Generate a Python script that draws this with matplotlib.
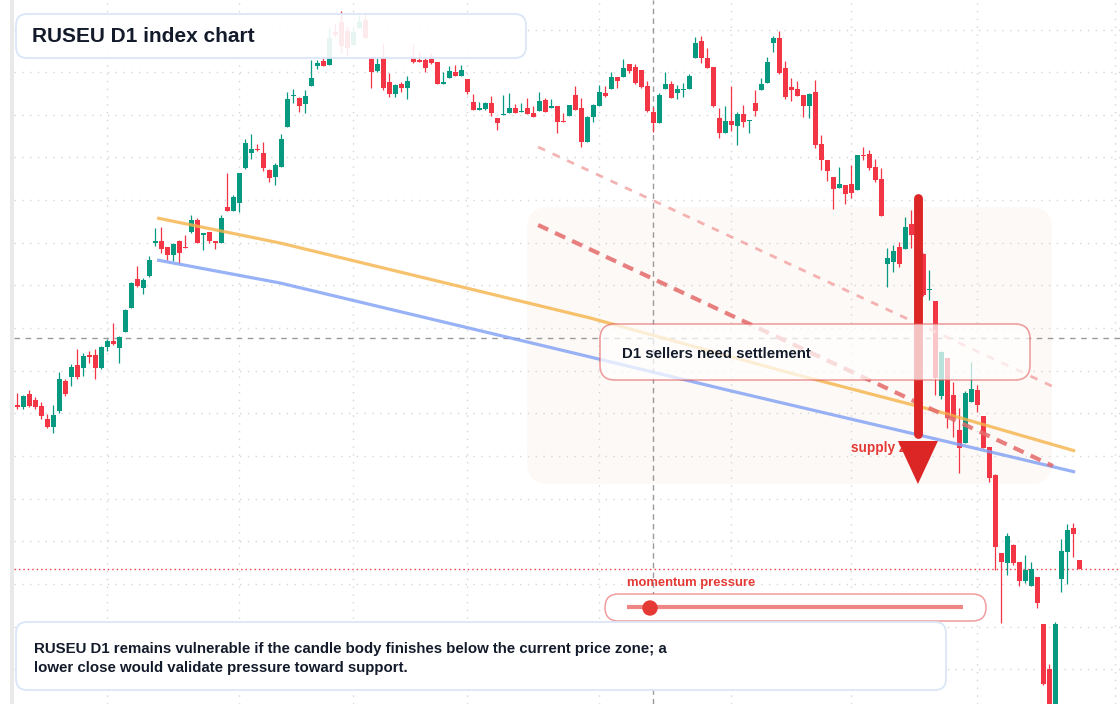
import numpy as np
import matplotlib.pyplot as plt
from matplotlib.colors import to_rgba
from matplotlib.lines import Line2D
from matplotlib.patches import FancyBboxPatch, Polygon, Circle, Rectangle

OUT_FILE = "out.png"

plt.rcParams["font.family"] = ["Liberation Sans", "DejaVu Sans"]
plt.rcParams["lines.scale_dashes"] = False

# === DATA: RUSEU daily candles (index points) ===
opens = [
    595, 593, 606, 600, 594, 581, 573, 589, 619, 623,
    635, 632, 645, 645, 632, 653, 659, 652, 668, 692,
    721, 712, 724, 757, 759, 753, 745, 759, 753, 768,
    780, 765, 768, 759, 757, 793, 789, 797, 832, 847,
    851, 847, 830, 823, 833, 873, 904, 902, 896, 914,
    934, 939, 935, 968, 978, 969, 955, 972, 980, 942,
    929, 942, 918, 906, 916, 912, 942, 940, 940, 941,
    938, 916, 922, 928, 924, 921, 898, 890, 891, 897,
    882, 885, 887, 892, 888, 892, 887, 889, 900, 892,
    894, 879, 884, 905, 892, 858, 883, 894, 907, 911,
    923, 923, 936, 933, 930, 914, 888, 877, 911, 916,
    907, 910, 911, 942, 959, 942, 933, 882, 867, 879,
    874, 886, 879, 897, 910, 917, 957, 962, 932, 913,
    911, 905, 894, 908, 856, 840, 823, 812, 815, 816,
    810, 845, 846, 833, 821, 736, 738, 753, 751, 776,
    768, 746, 710, 699, 604, 642, 605, 570, 557, 598,
    610, 584, 553, 525, 447, 437, 455, 438, 419, 414,
    423, 376, 331, 260, 421, 448, 472, 440,
]
highs = [
    607, 605, 610, 603, 598, 586, 595, 628, 621, 636,
    651, 647, 649, 651, 654, 661, 677, 664, 691, 718,
    734, 722, 744, 772, 773, 753, 757, 760, 765, 785,
    782, 767, 768, 759, 785, 827, 805, 827, 861, 866,
    856, 858, 831, 837, 866, 908, 911, 903, 910, 940,
    940, 942, 972, 977, 989, 974, 973, 985, 987, 942,
    942, 957, 927, 916, 918, 924, 956, 949, 943, 947,
    938, 928, 934, 935, 935, 921, 906, 898, 898, 904,
    882, 905, 907, 896, 897, 902, 894, 908, 902, 901,
    894, 887, 895, 914, 902, 884, 896, 915, 914, 928,
    923, 941, 936, 936, 930, 919, 893, 907, 928, 919,
    915, 917, 926, 963, 964, 952, 933, 892, 894, 914,
    888, 895, 880, 910, 922, 943, 964, 969, 939, 922,
    919, 905, 907, 920, 865, 840, 823, 833, 815, 835,
    845, 853, 850, 841, 832, 752, 755, 758, 783, 790,
    774, 747, 730, 699, 649, 642, 618, 592, 609, 638,
    615, 584, 553, 526, 447, 467, 456, 438, 445, 438,
    423, 376, 336, 378, 461, 476, 477, 440,
]
lows = [
    591, 591, 593, 591, 581, 572, 567, 587, 604, 614,
    621, 624, 637, 621, 631, 649, 655, 637, 668, 692,
    713, 706, 723, 754, 747, 740, 739, 737, 752, 767,
    757, 750, 757, 751, 757, 789, 789, 788, 831, 841,
    849, 829, 818, 815, 833, 873, 897, 888, 887, 914,
    931, 934, 935, 963, 947, 944, 955, 972, 962, 912,
    928, 910, 903, 903, 908, 901, 937, 938, 928, 936,
    916, 916, 922, 924, 924, 906, 890, 890, 890, 884,
    870, 885, 887, 887, 888, 886, 883, 889, 888, 892,
    867, 878, 884, 890, 853, 858, 878, 894, 903, 911,
    912, 923, 927, 916, 912, 888, 868, 877, 911, 902,
    901, 903, 911, 942, 937, 932, 893, 862, 867, 869,
    855, 873, 867, 884, 910, 917, 948, 926, 901, 899,
    904, 883, 882, 852, 830, 819, 791, 812, 796, 802,
    810, 840, 830, 818, 784, 713, 728, 733, 751, 752,
    742, 704, 700, 605, 601, 572, 563, 527, 557, 598,
    588, 552, 518, 430, 377, 425, 435, 414, 417, 414,
    392, 315, 240, 240, 408, 416, 443, 431,
]
closes = [
    593, 604, 594, 593, 584, 573, 585, 621, 606, 633,
    623, 644, 643, 632, 653, 659, 656, 663, 690, 717,
    714, 720, 740, 759, 751, 745, 756, 747, 752, 780,
    757, 767, 759, 757, 782, 789, 803, 827, 857, 851,
    850, 832, 822, 835, 861, 901, 905, 894, 904, 922,
    937, 934, 962, 965, 954, 952, 968, 978, 962, 928,
    936, 912, 906, 915, 912, 919, 938, 938, 932, 937,
    916, 918, 929, 924, 930, 908, 890, 892, 897, 887,
    877, 886, 892, 887, 889, 886, 883, 899, 888, 894,
    878, 878, 895, 890, 858, 883, 895, 908, 904, 923,
    919, 932, 929, 917, 913, 889, 877, 905, 916, 902,
    911, 911, 924, 957, 942, 932, 894, 867, 879, 875,
    886, 878, 880, 889, 916, 938, 962, 927, 903, 910,
    904, 894, 906, 855, 840, 829, 811, 816, 806, 807,
    845, 844, 832, 820, 784, 742, 749, 736, 773, 765,
    748, 705, 711, 622, 648, 582, 582, 552, 607, 611,
    595, 552, 522, 453, 438, 464, 437, 419, 430, 431,
    397, 316, 260, 376, 449, 470, 466, 431,
]

month_starts = [15, 37, 56, 75, 97, 119, 139, 160, 183]  # candle index of each month start
last_price = 431
cross_idx, cross_price = 106, 662

# trend lines (candle index, price)
orange_idx = [23.3, 43.8, 95.5, 128.8, 153.8, 176.3]
orange_val = [782, 757, 682, 627, 588, 549]
blue_idx = [23.3, 43.8, 95.5, 118.3, 153.8, 176.3]
blue_val = [740, 717, 643, 610, 560, 528]
sell_idx, sell_val = [86.8, 172.6], [775, 534]
upper_idx, upper_val = [86.8, 172.4], [853, 614]
arrow_idx, arrow_from, arrow_to = 150.1, 802, 516

title = "RUSEU D1 index chart"
box_label = "D1 sellers need settlement"
zone_label = "supply zone"
gauge_label = "momentum pressure"
note = ("RUSEU D1 remains vulnerable if the candle body finishes below the current price zone; a\n"
        "lower close would validate pressure toward support.")

# === STYLE ===
GREEN = "#089981"
RED = "#f23645"
INK = "#131b2b"
ARROW = "#dc2626"
W, H = 1120, 704

fig = plt.figure(figsize=(W / 100, H / 100), dpi=100)
fig.patch.set_facecolor("white")
ax = fig.add_axes([14 / W, 0, 1 - 14 / W, 1])
ax.set_xlim(-0.55, 183.78)
ax.set_ylim(296, 1000)
ax.axis("off")


def px(x, y):
    # pixel position (from top-left) -> inches for dpi_scale_trans
    return x / 100, (H - y) / 100


def rbox(x0, y0, x1, y1, r, fc, ec, lw, z=1, parent=None):
    patch = FancyBboxPatch(px(x0, y1), (x1 - x0) / 100, (y1 - y0) / 100,
                           boxstyle=f"round,pad=0,rounding_size={r / 100}",
                           transform=fig.dpi_scale_trans, fc=fc, ec=ec, lw=lw, zorder=z)
    if parent is None:
        fig.add_artist(patch)
    else:
        parent.add_patch(patch)
    return patch


# left strip
fig.add_artist(Rectangle((0.10, 0), 0.04, H / 100, transform=fig.dpi_scale_trans,
                         color="#e9e9e9", lw=0, zorder=0))

# grid
for lvl in np.arange(970.5, 300, -42.65):
    ax.axhline(lvl, color="#d6d6d6", lw=1, ls=(0, (1, 4.6)), zorder=0.5)
for m in month_starts:
    ax.axvline(m, color="#d6d6d6", lw=1, ls=(0, (1, 4.6)), zorder=0.5)

# shaded zone behind the breakdown
rbox(527, 207, 1052, 484, 22, "#fdf9f6", "none", 0, z=0.3, parent=ax)

# candles
o = np.array(opens, float)
h = np.array(highs, float)
l = np.array(lows, float)
c = np.array(closes, float)
idx = np.arange(len(o))
cols = np.where(c >= o, GREEN, RED)
ax.vlines(idx, l, h, colors=cols, lw=0.9, zorder=3)
body = np.maximum(np.abs(c - o), 1.2)
ax.bar(idx, body, bottom=np.minimum(o, c), width=0.78, color=cols, lw=0, zorder=3)

# trend lines
ax.plot(orange_idx, orange_val, color="#f6b34a", alpha=0.8, lw=2.3, zorder=4, solid_capstyle="butt")
ax.plot(blue_idx, blue_val, color="#7f9ff5", alpha=0.8, lw=2.3, zorder=4, solid_capstyle="butt")
ax.plot(upper_idx, upper_val, color="#f19a9a", alpha=0.75, lw=2, ls=(0, (5.5, 6)), zorder=4)
ax.plot(sell_idx, sell_val, color="#e46a6a", alpha=0.85, lw=3, ls=(0, (8, 5.5)), zorder=4)

# crosshair + last price
ax.axvline(cross_idx, color="#9a9a9a", lw=1, ls=(0, (4, 3)), zorder=2)
ax.axhline(cross_price, color="#9a9a9a", lw=1, ls=(0, (4, 4)), zorder=2)
ax.axhline(last_price, color=RED, lw=1, ls=(0, (1, 2.2)), zorder=2)

# supply zone label under the arrow
ax.text(*px(851, 448), zone_label, transform=fig.dpi_scale_trans, color="#e53935",
        fontsize=9.8, fontweight="bold", va="center", ha="left", zorder=5)

# arrow
ax.plot([arrow_idx, arrow_idx], [arrow_from, arrow_to + 50], color=ARROW, lw=6.4,
        solid_capstyle="round", zorder=6)
ax.add_patch(Polygon([(arrow_idx - 3.33, arrow_to + 43), (arrow_idx + 3.33, arrow_to + 43),
                      (arrow_idx, arrow_to)], closed=True, color=ARROW, lw=0, zorder=6))

# overlay boxes
rbox(16, 14, 526, 58, 11, to_rgba("white", 0.9), "#dbe6f8", 1.3)
fig.text(32 / W, 1 - 37 / H, title, fontsize=15, fontweight="bold", color=INK, va="center")

rbox(600, 324, 1030, 380, 15, to_rgba("white", 0.72), to_rgba("#e05555", 0.55), 1.2)
fig.text(622 / W, 1 - 354 / H, box_label, fontsize=10.8, fontweight="bold", color=INK, va="center")

fig.text(627 / W, 1 - 583 / H, gauge_label, fontsize=9.4, fontweight="bold", color="#e53935", va="center")
rbox(605, 594, 986, 621, 13.5, "white", to_rgba("#e85c5c", 0.6), 1.1)
fig.add_artist(Line2D([6.27, 9.63], [(H - 607) / 100] * 2, transform=fig.dpi_scale_trans,
                      color="#ef8585", lw=3, zorder=2, solid_capstyle="butt"))
fig.add_artist(Circle(px(650, 608), 0.07, transform=fig.dpi_scale_trans, color="#e53935", zorder=3))

rbox(16, 622, 946, 690, 11, "white", "#dbe6f8", 1.3)
fig.text(34 / W, 1 - 658.5 / H, note, fontsize=10.8, fontweight="bold", color=INK,
         va="center", linespacing=1.5)

fig.savefig(OUT_FILE, dpi=100)
plt.close(fig)
